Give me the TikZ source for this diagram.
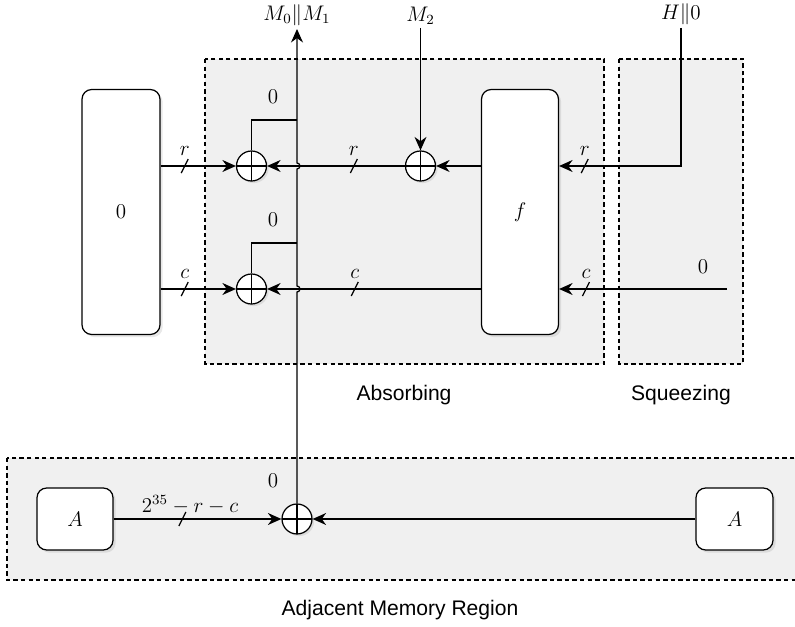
\documentclass[tikz,border=0pt]{standalone}
\usepackage{fontspec}
\usepackage{amsmath}
\usetikzlibrary{arrows.meta,positioning,shadows}
\newfontfamily\labelfont{Liberation Sans}

\begin{document}
\begin{tikzpicture}[x=0.02cm,y=0.02cm,font=\fontsize{12}{14}\selectfont,line width=0.7pt,
  >={Stealth[length=2.7mm,width=2.4mm]},
  blk/.style={draw,rounded corners=5.5pt,fill=white,
    drop shadow={opacity=0.18,shadow xshift=1.5pt,shadow yshift=-1.5pt}},
  xor/.style={draw,circle,fill=white,minimum size=0.6cm,inner sep=0pt,
    drop shadow={opacity=0.18,shadow xshift=1.2pt,shadow yshift=-1.2pt},
    path picture={\draw (path picture bounding box.north) -- (path picture bounding box.south)
      (path picture bounding box.west) -- (path picture bounding box.east);}},
  region/.style={draw,dash pattern=on 2.5pt off 1.8pt,fill=black!6,line width=0.6pt},
  toplbl/.style={above,inner sep=1.5pt},
  pics/bus/.style={code={\draw[-] (-3.5,-7) -- (3.5,7); \node (-t) at (0,15) {$#1$};}}]
\useasboundingbox (0,0) rectangle (795,626);

% regions
\draw[region] (205,567) rectangle (604,262);
\draw[region] (619,567) rectangle (743,262);
\draw[region] (7,168) rectangle (800,46);
\node (absorb) at (404,231) {\labelfont Absorbing};
\node (squeeze) at (681,231) {\labelfont Squeezing};
\node (adjmem) at (400,16) {\labelfont Adjacent Memory Region};

\node[blk,minimum width=1.56cm,minimum height=4.9cm] (init) at (121,414) {$0$};
\node[blk,minimum width=1.54cm,minimum height=4.9cm] (perm) at (520,414) {$f$};
\node[blk,minimum width=1.52cm,minimum height=1.24cm] (srcA) at (75,107) {$A$};
\node[blk,minimum width=1.54cm,minimum height=1.24cm] (dstA) at (734.5,107) {$A$};

\node[xor] (xr) at (251.5,460) {};
\node[xor] (xm2) at (420.5,460) {};
\node[xor] (xc) at (251.5,337) {};
\node[xor] (xa) at (297,107) {};

\node[toplbl] (m01) at (297,597) {$M_0\|M_1$};
\node[toplbl] (m2) at (420.5,598) {$M_2$};
\node[toplbl] (h0) at (681,598) {$H\|0$};
\node (zr) at (273,529) {$0$};
\node (zc) at (273,406) {$0$};
\node (zs) at (703,359) {$0$};
\node (za) at (273,145) {$0$};
\node (len) at (190,121) {$2^{35}-r-c$};
\coordinate (zsrc) at (727,337);
\coordinate (br) at (297,506);
\coordinate (bc) at (297,383);

\draw[->] (init.east|-xr) -- pic[pos=.32](bus1){bus=r} (xr);
\draw[->] (xm2) -- pic[pos=.37](bus2){bus=r} (xr);
\draw[->] (perm.west|-xm2) -- (xm2);
\draw[->] (m2) -- (xm2);
\draw[->] (h0) |- pic[pos=.895](bus3){bus=r} (perm.east|-xm2);
\draw[->] (init.east|-xc) -- pic[pos=.32](bus4){bus=c} (xc);
\draw[->] (perm.west|-xc) -- pic[pos=.59](bus5){bus=c} (xc);
\draw[->] (zsrc) -- pic[pos=.84](bus6){bus=c} (perm.east|-xc);
\draw[->] (srcA) -- pic[pos=.41](bus7){bus={}} (xa);
\draw[->] (dstA) -- (xa);
\draw (br) -| (xr);
\draw (bc) -| (xc);
\draw[->] (xa.north) -- (297,334) arc[start angle=-90,end angle=90,radius=0.06cm]
  -- (297,457) arc[start angle=-90,end angle=90,radius=0.06cm] -- (m01.south);
\end{tikzpicture}
\end{document}
